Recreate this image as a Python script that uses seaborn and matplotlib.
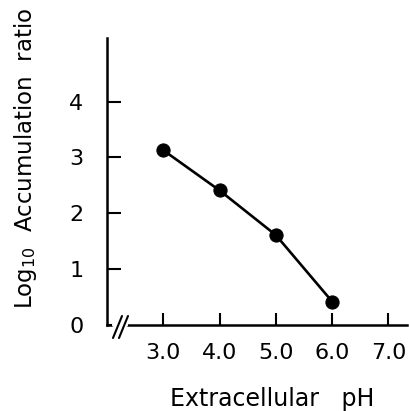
import matplotlib
matplotlib.use("Agg")
import matplotlib.pyplot as plt
import seaborn as sns
import pandas as pd
from matplotlib.lines import Line2D

# Data
ph = [3.0, 4.0, 5.0, 6.0]
log_ratio = [3.13, 2.41, 1.61, 0.42]
xticks = [3.0, 4.0, 5.0, 6.0, 7.0]
xtick_labels = ["3.0", "4.0", "5.0", "6.0", "7.0"]
yticks = [0, 1, 2, 3, 4]
ytick_labels = ["0", "1", "2", "3", "4"]

sns.set_style("ticks")
plt.rcParams["font.family"] = ["DejaVu Sans"]
plt.rcParams["mathtext.fontset"] = "dejavusans"
plt.rcParams["text.color"] = "black"
plt.rcParams["axes.labelcolor"] = "black"

W, H = 410, 411
fig = plt.figure(figsize=(W / 100, H / 100), dpi=100)
left, right, bottom, top = 107, 407, 325, 38
ax = fig.add_axes([left / W, (H - bottom) / H, (right - left) / W, (bottom - top) / H])

df = pd.DataFrame({"pH": ph, "ratio": log_ratio})
sns.lineplot(data=df, x="pH", y="ratio", ax=ax, color="black", linewidth=1.9,
             marker="o", markersize=9.5, markeredgecolor="black", markerfacecolor="black")

ax.set_xlim(2.0, 7.33)
ax.set_ylim(0.0, 5.14)
ax.set_xticks(xticks)
ax.set_xticklabels(xtick_labels)
ax.set_yticks(yticks)
ax.set_yticklabels(ytick_labels)

for s in ["top", "right"]:
    ax.spines[s].set_visible(False)
for s in ["left", "bottom"]:
    ax.spines[s].set_linewidth(1.8)
    ax.spines[s].set_color("black")

ax.tick_params(axis="x", direction="in", length=9, width=1.5, pad=13, labelsize=16, colors="black")
ax.tick_params(axis="y", direction="in", length=10, width=1.5, pad=17, labelsize=16, colors="black")

ax.set_xlabel("Extracellular   pH", fontsize=17)
ax.xaxis.set_label_coords(0.55, -0.215)
ax.set_ylabel("Log$_{10}$  Accumulation  ratio", fontsize=16.5)
ax.yaxis.set_label_coords(-0.228, 0.58)

def px(x, y):
    return (x / W, (H - y) / H)

# white gap in spine for the break marks
gap = Line2D([px(114, 0)[0], px(126, 0)[0]], [px(0, 325)[1]] * 2, transform=fig.transFigure,
             color="white", linewidth=3, zorder=5)
fig.add_artist(gap)
for x0 in (113, 119):
    (a, b), (c, d) = px(x0, 338), px(x0 + 9, 316)
    fig.add_artist(Line2D([a, c], [b, d], transform=fig.transFigure, color="black",
                          linewidth=1.5, zorder=6))

fig.savefig("out.png", dpi=100)
